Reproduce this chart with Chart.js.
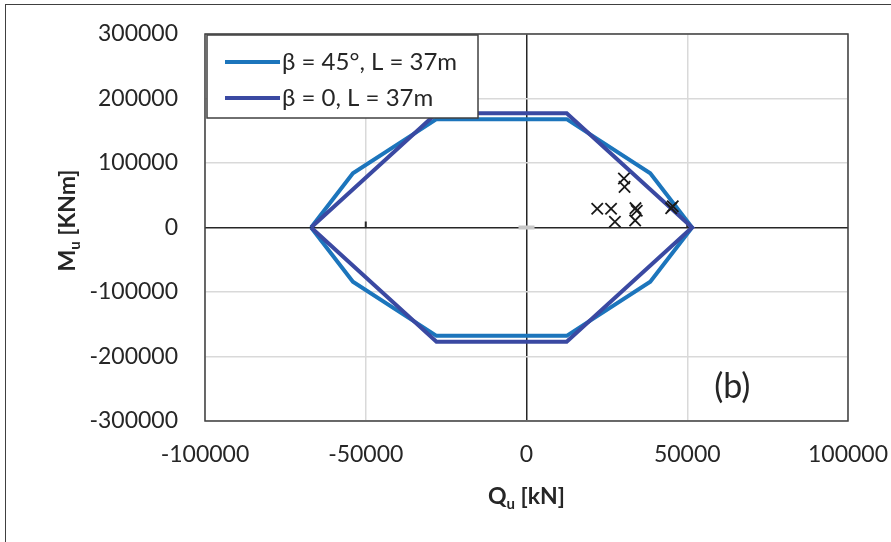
<!DOCTYPE html>
<html>
<head>
<meta charset="utf-8">
<script src="https://cdn.jsdelivr.net/npm/chart.js@4.4.1/dist/chart.umd.min.js"></script>
<style>
  html, body { margin: 0; padding: 0; background: #fff; overflow: hidden; }
  #frame {
    position: absolute; left: 5px; top: 4px; width: 940px; height: 600px;
    border-left: 1.5px solid #404040; border-top: 1.5px solid #404040;
  }
  #wrap { position: absolute; left: 0; top: 0; width: 891px; height: 542px; }
</style>
</head>
<body>
<div id="frame"></div>
<div id="wrap"><canvas id="chart"></canvas></div>
<script>
// interaction envelope, beta = 45 deg, L = 37 m
const q45 = [-67000, -54000, -28000, 12500, 38500, 51500, 38500, 12500, -28000, -54000, -67000];
const m45 = [0, 84000, 168000, 168000, 84000, 0, -84000, -168000, -168000, -84000, 0];

// interaction envelope, beta = 0, L = 37 m
const q0 = [-67000, -28000, 12500, 51500, 12500, -28000, -67000];
const m0 = [0, 177000, 177000, 0, -177000, -177000, 0];

// load cases
const loadQ = [30300, 30500, 22000, 26300, 27500, 33900, 34300, 33800, 45500, 45000];
const loadM = [76000, 63000, 29000, 29000, 9000, 30000, 26000, 11000, 33000, 30000];

const seriesLabels = ['β = 45°, L = 37m', 'β = 0, L = 37m'];
const qTicks = [-100000, -50000, 0, 50000, 100000];
const mTicks = [-300000, -200000, -100000, 0, 100000, 200000, 300000];

const FONT = 'Lato, "Open Sans", sans-serif';
const TEXT = '#262626';

const toPoints = (xs, ys) => xs.map((x, i) => ({ x, y: ys[i] }));

// text with a subscript part, centred on (0, 0) of the current transform
function subText(ctx, parts, size) {
  const fonts = parts.map(p => `bold ${p.sub ? Math.round(size * 0.65) : size}px ${FONT}`);
  let total = 0;
  const widths = parts.map((p, i) => { ctx.font = fonts[i]; const w = ctx.measureText(p.t).width; total += w; return w; });
  let x = -total / 2;
  ctx.textBaseline = 'middle';
  ctx.textAlign = 'left';
  parts.forEach((p, i) => {
    ctx.font = fonts[i];
    ctx.fillText(p.t, x, p.sub ? size * 0.3 : 0);
    x += widths[i];
  });
}

const decor = {
  id: 'decor',
  beforeDatasetsDraw(chart) {
    const { ctx, chartArea: a, scales } = chart;
    ctx.save();
    // small tick marks on the zero axis
    const y0 = scales.y.getPixelForValue(0);
    ctx.strokeStyle = TEXT;
    ctx.lineWidth = 2;
    qTicks.forEach(v => {
      if (v === 0 || Math.abs(v) === 100000) return;
      const x = scales.x.getPixelForValue(v);
      ctx.beginPath(); ctx.moveTo(x, y0); ctx.lineTo(x, y0 - 6); ctx.stroke();
    });
    // plot area border
    ctx.strokeStyle = '#404040';
    ctx.lineWidth = 1.5;
    ctx.strokeRect(a.left, a.top, a.right - a.left, a.bottom - a.top);
    ctx.restore();
  },
  afterDatasetsDraw(chart) {
    const { ctx, chartArea: a } = chart;
    ctx.save();
    // legend box
    const lx = a.left + 2, ly = a.top + 1, lw = 271, lh = 83;
    ctx.fillStyle = '#fff';
    ctx.fillRect(lx, ly, lw, lh);
    ctx.strokeStyle = '#404040';
    ctx.lineWidth = 1.5;
    ctx.strokeRect(lx, ly, lw, lh);
    ctx.font = `24px ${FONT}`;
    ctx.textBaseline = 'middle';
    ctx.textAlign = 'left';
    seriesLabels.forEach((label, i) => {
      const ds = chart.data.datasets[i];
      const yy = ly + 27 + i * 36;
      ctx.strokeStyle = ds.borderColor;
      ctx.lineWidth = 4;
      ctx.beginPath(); ctx.moveTo(lx + 18, yy); ctx.lineTo(lx + 73, yy); ctx.stroke();
      ctx.fillStyle = TEXT;
      ctx.fillText(label, lx + 75, yy);
    });
    // panel label
    ctx.font = `34px ${FONT}`;
    ctx.textAlign = 'center';
    ctx.fillText('(b)', chart.scales.x.getPixelForValue(64000), chart.scales.y.getPixelForValue(-248000));
    ctx.restore();
  },
  afterDraw(chart) {
    const { ctx, chartArea: a } = chart;
    ctx.save();
    ctx.fillStyle = TEXT;
    // vertical axis title
    ctx.translate(68, (a.top + a.bottom) / 2 - 7);
    ctx.rotate(-Math.PI / 2);
    subText(ctx, [{ t: 'M' }, { t: 'u', sub: true }, { t: ' [KNm]' }], 23);
    ctx.restore();
    ctx.save();
    ctx.fillStyle = TEXT;
    // horizontal axis title
    ctx.translate((a.left + a.right) / 2, 497);
    subText(ctx, [{ t: 'Q' }, { t: 'u', sub: true }, { t: ' [kN]' }], 23);
    ctx.restore();
  }
};

const gridColor = ctx => ctx.tick && ctx.tick.value === 0 ? '#262626' : '#d9d9d9';

new Chart(document.getElementById('chart'), {
  type: 'scatter',
  data: {
    datasets: [
      {
        label: seriesLabels[0],
        data: toPoints(q45, m45),
        showLine: true,
        borderColor: '#1c75bc',
        borderWidth: 4,
        pointRadius: 0,
        order: 3
      },
      {
        label: seriesLabels[1],
        data: toPoints(q0, m0),
        showLine: true,
        borderColor: '#3a49a2',
        borderWidth: 4,
        pointRadius: 0,
        order: 2
      },
      {
        label: 'loads',
        data: toPoints(loadQ, loadM),
        pointStyle: 'crossRot',
        pointRadius: 8,
        borderColor: '#1a1a1a',
        borderWidth: 1.8,
        order: 1
      },
      {
        label: 'origin',
        data: [{ x: 0, y: 0 }],
        pointStyle: 'line',
        pointRadius: 8,
        borderColor: '#c8c8c8',
        borderWidth: 4,
        order: 0
      }
    ]
  },
  options: {
    responsive: true,
    maintainAspectRatio: false,
    animation: false,
    layout: { padding: { left: 0, top: 34, right: 43, bottom: 0 } },
    plugins: { legend: { display: false }, tooltip: { enabled: false } },
    scales: {
      x: {
        min: -100000,
        max: 100000,
        afterBuildTicks: s => { s.ticks = qTicks.map(v => ({ value: v })); },
        afterFit: s => { s.height = 121; s.paddingLeft = 0; s.paddingRight = 0; },
        border: { display: false },
        grid: { color: gridColor, lineWidth: 1.5, drawTicks: false },
        ticks: {
          padding: 20,
          color: TEXT,
          font: { family: FONT, size: 23 },
          maxRotation: 0,
          callback: v => String(v)
        }
      },
      y: {
        min: -300000,
        max: 300000,
        afterBuildTicks: s => { s.ticks = mTicks.map(v => ({ value: v })); },
        afterFit: s => { s.width = 205; s.paddingTop = 0; s.paddingBottom = 0; },
        border: { display: false },
        grid: { color: gridColor, lineWidth: 1.5, drawTicks: false },
        ticks: {
          padding: 27,
          color: TEXT,
          font: { family: FONT, size: 23 },
          callback: v => String(v)
        }
      }
    }
  },
  plugins: [decor]
});
</script>
</body>
</html>
